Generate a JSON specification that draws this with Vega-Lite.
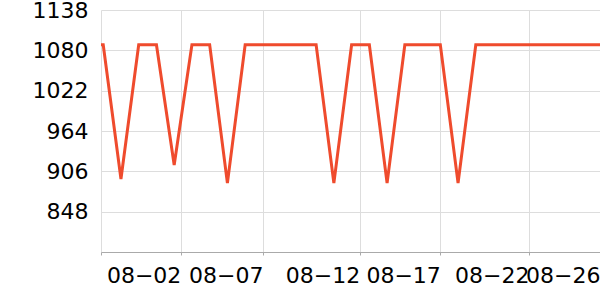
{
  "$schema": "https://vega.github.io/schema/vega-lite/v6.json",
  "width": 499,
  "height": 242,
  "autosize": {"type": "none"},
  "padding": {"left": 101, "top": 10, "right": 0, "bottom": 48},
  "background": "white",
  "config": {
    "view": {"stroke": null},
    "font": "DejaVu Sans",
    "axis": {"labelFont": "DejaVu Sans", "labelFontSize": 22, "labelColor": "#000000", "gridColor": "#dddddd", "gridWidth": 1}
  },
  "data": {
    "values": [
      {"date": "2024-07-28T03:00:00", "value": 1088},
      {"date": "2024-07-29T03:00:00", "value": 1088},
      {"date": "2024-07-30T03:00:00", "value": 895},
      {"date": "2024-07-31T03:00:00", "value": 1088},
      {"date": "2024-08-01T03:00:00", "value": 1088},
      {"date": "2024-08-02T03:00:00", "value": 915},
      {"date": "2024-08-03T03:00:00", "value": 1088},
      {"date": "2024-08-04T03:00:00", "value": 1088},
      {"date": "2024-08-05T03:00:00", "value": 889},
      {"date": "2024-08-06T03:00:00", "value": 1088},
      {"date": "2024-08-07T03:00:00", "value": 1088},
      {"date": "2024-08-08T03:00:00", "value": 1088},
      {"date": "2024-08-09T03:00:00", "value": 1088},
      {"date": "2024-08-10T03:00:00", "value": 1088},
      {"date": "2024-08-11T03:00:00", "value": 889},
      {"date": "2024-08-12T03:00:00", "value": 1088},
      {"date": "2024-08-13T03:00:00", "value": 1088},
      {"date": "2024-08-14T03:00:00", "value": 889},
      {"date": "2024-08-15T03:00:00", "value": 1088},
      {"date": "2024-08-16T03:00:00", "value": 1088},
      {"date": "2024-08-17T03:00:00", "value": 1088},
      {"date": "2024-08-18T03:00:00", "value": 889},
      {"date": "2024-08-19T03:00:00", "value": 1088},
      {"date": "2024-08-20T03:00:00", "value": 1088},
      {"date": "2024-08-21T03:00:00", "value": 1088},
      {"date": "2024-08-22T03:00:00", "value": 1088},
      {"date": "2024-08-23T03:00:00", "value": 1088},
      {"date": "2024-08-24T03:00:00", "value": 1088},
      {"date": "2024-08-25T03:00:00", "value": 1088},
      {"date": "2024-08-26T03:00:00", "value": 1088}
    ]
  },
  "mark": {"type": "line", "color": "#ef4b2d", "strokeWidth": 3, "clip": true},
  "encoding": {
    "x": {
      "field": "date",
      "type": "temporal",
      "title": null,
      "scale": {
        "domain": [
          {"year": 2024, "month": 7, "date": 29, "hours": 0},
          {"year": 2024, "month": 8, "date": 26, "hours": 3}
        ],
        "nice": false
      },
      "axis": {
        "values": [
          {"year": 2024, "month": 7, "date": 29, "hours": 0},
          {"year": 2024, "month": 8, "date": 2, "hours": 12},
          {"year": 2024, "month": 8, "date": 7, "hours": 3},
          {"year": 2024, "month": 8, "date": 12, "hours": 14},
          {"year": 2024, "month": 8, "date": 17, "hours": 3},
          {"year": 2024, "month": 8, "date": 22, "hours": 3},
          {"year": 2024, "month": 8, "date": 26, "hours": 3}
        ],
        "format": "%m-%d",
        "labelExpr": "timeFormat(datum.value, '%m-%d') == '07-29' ? '' : timeFormat(datum.value, '%m−%d')",
        "labelAlign": "right",
        "labelOverlap": false,
        "labelBound": false,
        "labelFlush": false,
        "labelPadding": 10,
        "tickSize": 3,
        "tickColor": "#aaaaaa",
        "domainColor": "#aaaaaa",
        "grid": true
      }
    },
    "y": {
      "field": "value",
      "type": "quantitative",
      "title": null,
      "scale": {"domain": [790, 1138], "nice": false, "zero": false},
      "axis": {
        "values": [848, 906, 964, 1022, 1080, 1138],
        "format": "d",
        "ticks": false,
        "domain": false,
        "labelPadding": 13,
        "grid": true
      }
    }
  }
}
